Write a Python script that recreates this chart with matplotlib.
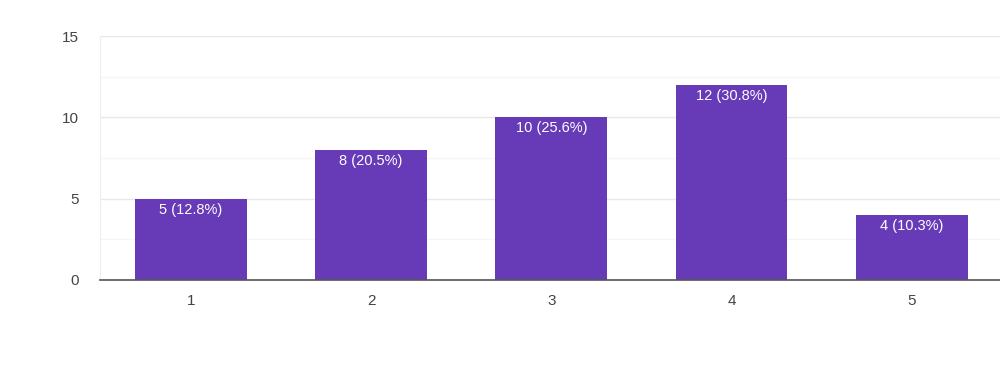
import matplotlib
matplotlib.use("Agg")
import matplotlib.pyplot as plt
from matplotlib.ticker import MultipleLocator

# data
ratings = ["1", "2", "3", "4", "5"]
counts = [5, 8, 10, 12, 4]
total = sum(counts)

plt.rcParams["font.family"] = ["Liberation Sans", "DejaVu Sans"]

fig = plt.figure(figsize=(10, 3.83), dpi=100)
ax = fig.add_axes([0.1, 0.269, 0.9, 0.637])

x = range(1, len(ratings) + 1)
bars = ax.bar(x, counts, width=0.62, color="#673ab7", zorder=3)

# labels inside the bars, near the top
for b, c in zip(bars, counts):
    ax.text(b.get_x() + b.get_width() / 2, c - 0.25, f"{c} ({c / total * 100:.1f}%)",
            ha="center", va="top", color="white", fontsize=10.5, zorder=4)

ax.set_xlim(0.495, 5.49)
ax.set_ylim(0, 15)
ax.set_xticks(list(x))
ax.set_xticklabels(ratings)
ax.yaxis.set_major_locator(MultipleLocator(5))
ax.yaxis.set_minor_locator(MultipleLocator(2.5))

# grid lines: majors slightly darker than the halfway lines
ax.grid(axis="y", which="major", color="#e8e8e8", linewidth=1, zorder=0)
ax.grid(axis="y", which="minor", color="#f5f5f5", linewidth=1, zorder=0)

for side in ["top", "right"]:
    ax.spines[side].set_visible(False)
ax.spines["left"].set_color("#eeeeee")
ax.spines["bottom"].set_color("#555555")
ax.spines["bottom"].set_linewidth(1.2)
ax.spines["bottom"].set_zorder(5)

ax.tick_params(axis="both", which="both", length=0, labelsize=11, labelcolor="#444444")
ax.tick_params(axis="y", pad=15)
ax.tick_params(axis="x", pad=10)

fig.savefig("out.png", dpi=100)
